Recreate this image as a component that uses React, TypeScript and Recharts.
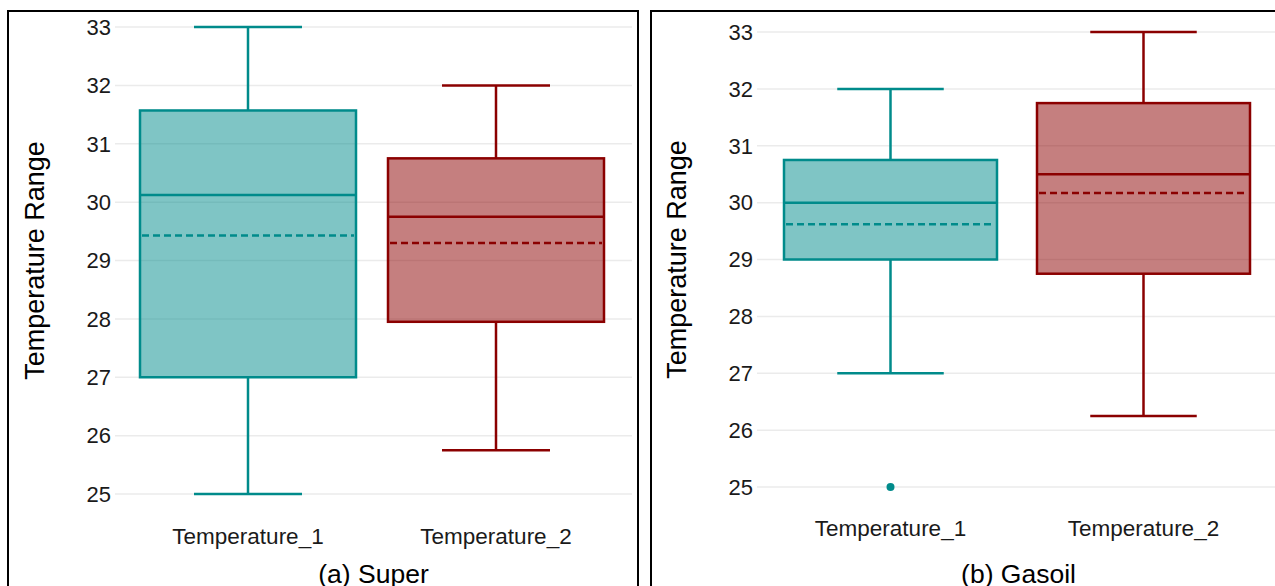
import React from "react";
import {
  ComposedChart,
  Bar,
  XAxis,
  YAxis,
  CartesianGrid,
  Label,
} from "recharts";

// categories shared by both panels
const categories = ["Temperature_1", "Temperature_2"];
const yTicks = [25, 26, 27, 28, 29, 30, 31, 32, 33];

// (a) Super
const superMin = [25, 25.75];
const superQ1 = [27, 27.95];
const superMedian = [30.12, 29.75];
const superMean = [29.43, 29.3];
const superQ3 = [31.57, 30.75];
const superMax = [33, 32];
const superOutliers: number[][] = [[], []];

// (b) Gasoil
const gasoilMin = [27, 26.25];
const gasoilQ1 = [29, 28.75];
const gasoilMedian = [30, 30.5];
const gasoilMean = [29.62, 30.17];
const gasoilQ3 = [30.75, 31.75];
const gasoilMax = [32, 33];
const gasoilOutliers: number[][] = [[25], []];

const COLORS = ["#008B8B", "#8B0000"];
const FONT = '"Liberation Sans", Arial, sans-serif';

type BoxRow = {
  name: string;
  range: [number, number];
  min: number;
  q1: number;
  median: number;
  mean: number;
  q3: number;
  max: number;
  outliers: number[];
};

const buildRows = (
  min: number[],
  q1: number[],
  median: number[],
  mean: number[],
  q3: number[],
  max: number[],
  outliers: number[][]
): BoxRow[] =>
  categories.map((name, i) => ({
    name,
    range: [min[i], max[i]],
    min: min[i],
    q1: q1[i],
    median: median[i],
    mean: mean[i],
    q3: q3[i],
    max: max[i],
    outliers: outliers[i],
  }));

const superRows = buildRows(superMin, superQ1, superMedian, superMean, superQ3, superMax, superOutliers);
const gasoilRows = buildRows(gasoilMin, gasoilQ1, gasoilMedian, gasoilMean, gasoilQ3, gasoilMax, gasoilOutliers);

// the bar spans min..max, so its pixel box gives the y scale for the other stats
const BoxShape = (props: any) => {
  const { x, y, width, height, payload, index } = props;
  const row = payload as BoxRow;
  const color = COLORS[index % COLORS.length];
  const top = Math.min(y, y + height);
  const ppu = Math.abs(height) / (row.max - row.min);
  const toPx = (v: number) => top + (row.max - v) * ppu;
  const cx = x + width / 2;
  const capHalf = width / 4;
  const sw = 2.5;

  return (
    <g>
      <line x1={cx} x2={cx} y1={toPx(row.max)} y2={toPx(row.q3)} stroke={color} strokeWidth={sw} />
      <line x1={cx} x2={cx} y1={toPx(row.q1)} y2={toPx(row.min)} stroke={color} strokeWidth={sw} />
      <line x1={cx - capHalf} x2={cx + capHalf} y1={toPx(row.max)} y2={toPx(row.max)} stroke={color} strokeWidth={sw} />
      <line x1={cx - capHalf} x2={cx + capHalf} y1={toPx(row.min)} y2={toPx(row.min)} stroke={color} strokeWidth={sw} />
      <rect
        x={x}
        y={toPx(row.q3)}
        width={width}
        height={toPx(row.q1) - toPx(row.q3)}
        fill={color}
        fillOpacity={0.5}
        stroke={color}
        strokeWidth={sw}
      />
      <line x1={x} x2={x + width} y1={toPx(row.median)} y2={toPx(row.median)} stroke={color} strokeWidth={sw} />
      <line
        x1={x + 2}
        x2={x + width - 2}
        y1={toPx(row.mean)}
        y2={toPx(row.mean)}
        stroke={color}
        strokeWidth={sw}
        strokeDasharray="7 4"
      />
      {row.outliers.map((o, k) => (
        <circle key={k} cx={cx} cy={toPx(o)} r={4} fill={color} />
      ))}
    </g>
  );
};

type PanelProps = {
  rows: BoxRow[];
  title: string;
  width: number;
  marginTop: number;
  marginRight: number;
  yAxisWidth: number;
  xAxisHeight: number;
  padLeft: number;
  padRight: number;
  barSize: number;
  xTickMargin: number;
  yLabelOffset: number;
};

const BoxPanel = (p: PanelProps) => (
  <ComposedChart
    width={p.width}
    height={576}
    data={p.rows}
    margin={{ top: p.marginTop, right: p.marginRight, bottom: 0, left: 0 }}
  >
    <CartesianGrid stroke="#EBEBEB" strokeWidth={1.5} vertical={false} />
    <XAxis
      dataKey="name"
      type="category"
      padding={{ left: p.padLeft, right: p.padRight }}
      height={p.xAxisHeight}
      tickLine={false}
      axisLine={false}
      tickSize={0}
      tickMargin={p.xTickMargin}
      tick={{ fill: "#1a1a1a", fontSize: 22.5, fontFamily: FONT }}
    >
      <Label
        value={p.title}
        position="insideBottom"
        offset={5}
        style={{ fill: "#000", fontSize: 26.5, fontFamily: FONT }}
      />
    </XAxis>
    <YAxis
      type="number"
      domain={[25, 33]}
      ticks={yTicks}
      width={p.yAxisWidth}
      tickLine={false}
      axisLine={false}
      tickSize={0}
      tickMargin={4}
      tick={{ fill: "#1a1a1a", fontSize: 22, fontFamily: FONT }}
    >
      <Label
        value="Temperature Range"
        angle={-90}
        position="insideLeft"
        offset={p.yLabelOffset}
        style={{ textAnchor: "middle", fill: "#000", fontSize: 27, fontFamily: FONT }}
      />
    </YAxis>
    <Bar dataKey="range" barSize={p.barSize} shape={<BoxShape />} isAnimationActive={false} />
  </ComposedChart>
);

const panelStyle = (left: number, width: number): React.CSSProperties => ({
  position: "absolute",
  left,
  top: 10,
  width,
  height: 600,
  border: "2px solid #000",
  background: "#fff",
});

export default function App() {
  return (
    <div
      style={{
        position: "absolute",
        left: 0,
        top: 0,
        width: 1275,
        height: 586,
        overflow: "hidden",
        background: "#fff",
        fontFamily: FONT,
      }}
    >
      <div style={panelStyle(7, 628)}>
        <BoxPanel
          rows={superRows}
          title="(a) Super"
          width={628}
          marginTop={15}
          marginRight={5}
          yAxisWidth={106}
          xAxisHeight={94}
          padLeft={9}
          padRight={12}
          barSize={216}
          xTickMargin={34}
          yLabelOffset={25}
        />
      </div>
      <div style={panelStyle(650, 640)}>
        <BoxPanel
          rows={gasoilRows}
          title="(b) Gasoil"
          width={630}
          marginTop={20}
          marginRight={2}
          yAxisWidth={105}
          xAxisHeight={101}
          padLeft={7}
          padRight={10}
          barSize={213}
          xTickMargin={33}
          yLabelOffset={24}
        />
      </div>
    </div>
  );
}
